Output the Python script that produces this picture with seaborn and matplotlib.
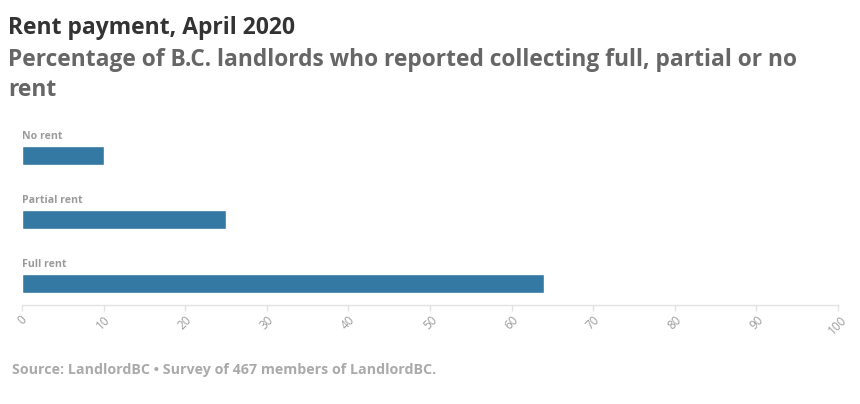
import matplotlib
matplotlib.use("Agg")
import matplotlib.pyplot as plt
import seaborn as sns
import pandas as pd

categories = ["No rent", "Partial rent", "Full rent"]
percent = [10, 25, 64]
ticks = [0, 10, 20, 30, 40, 50, 60, 70, 80, 90, 100]

sns.set_theme(style="white")
plt.rcParams['font.family'] = ['Open Sans', 'DejaVu Sans']

df = pd.DataFrame({"category": categories, "percent": percent})

fig = plt.figure(figsize=(8.6, 4.04), dpi=100)
ax = fig.add_axes([22 / 860, 99 / 404, 816 / 860, 180 / 404])

sns.barplot(data=df, x="percent", y="category", orient="h", color="#3478a4",
            width=0.29, saturation=1, ax=ax)

for i, cat in enumerate(categories):
    ax.text(0, i - 0.21, cat, fontsize=7.6, fontweight="bold", color="#9a9a9a",
            ha="left", va="bottom")

ax.set_xlim(0, 100)
ax.set_ylim(2.33, -0.47)
ax.set_xticks(ticks)
ax.set_xticklabels([str(t) for t in ticks], rotation=45, fontsize=8.5, color="#9c9c9c")
ax.set_yticks([])
ax.set_xlabel("")
ax.set_ylabel("")
for s in ["top", "right", "left"]:
    ax.spines[s].set_visible(False)
ax.spines["bottom"].set_color("#e3e3e3")
ax.spines["bottom"].set_linewidth(1)
ax.tick_params(axis="x", length=4, color="#e3e3e3", width=1, pad=2, bottom=True)

fig.text(8 / 860, 1 - 34 / 404, "Rent payment, April 2020", fontsize=16.5,
         fontweight="bold", color="#333333")
fig.text(8 / 860, 1 - 66 / 404, "Percentage of B.C. landlords who reported collecting full, partial or no",
         fontsize=16.4, fontweight="bold", color="#666666")
fig.text(8 / 860, 1 - 96 / 404, "rent", fontsize=16.4, fontweight="bold", color="#666666")
fig.text(12 / 860, 1 - 374 / 404, "Source: LandlordBC \u2022 Survey of 467 members of LandlordBC.",
         fontsize=10.3, fontweight="bold", color="#aaaaaa")

fig.savefig("out.png", dpi=100, facecolor="white")
